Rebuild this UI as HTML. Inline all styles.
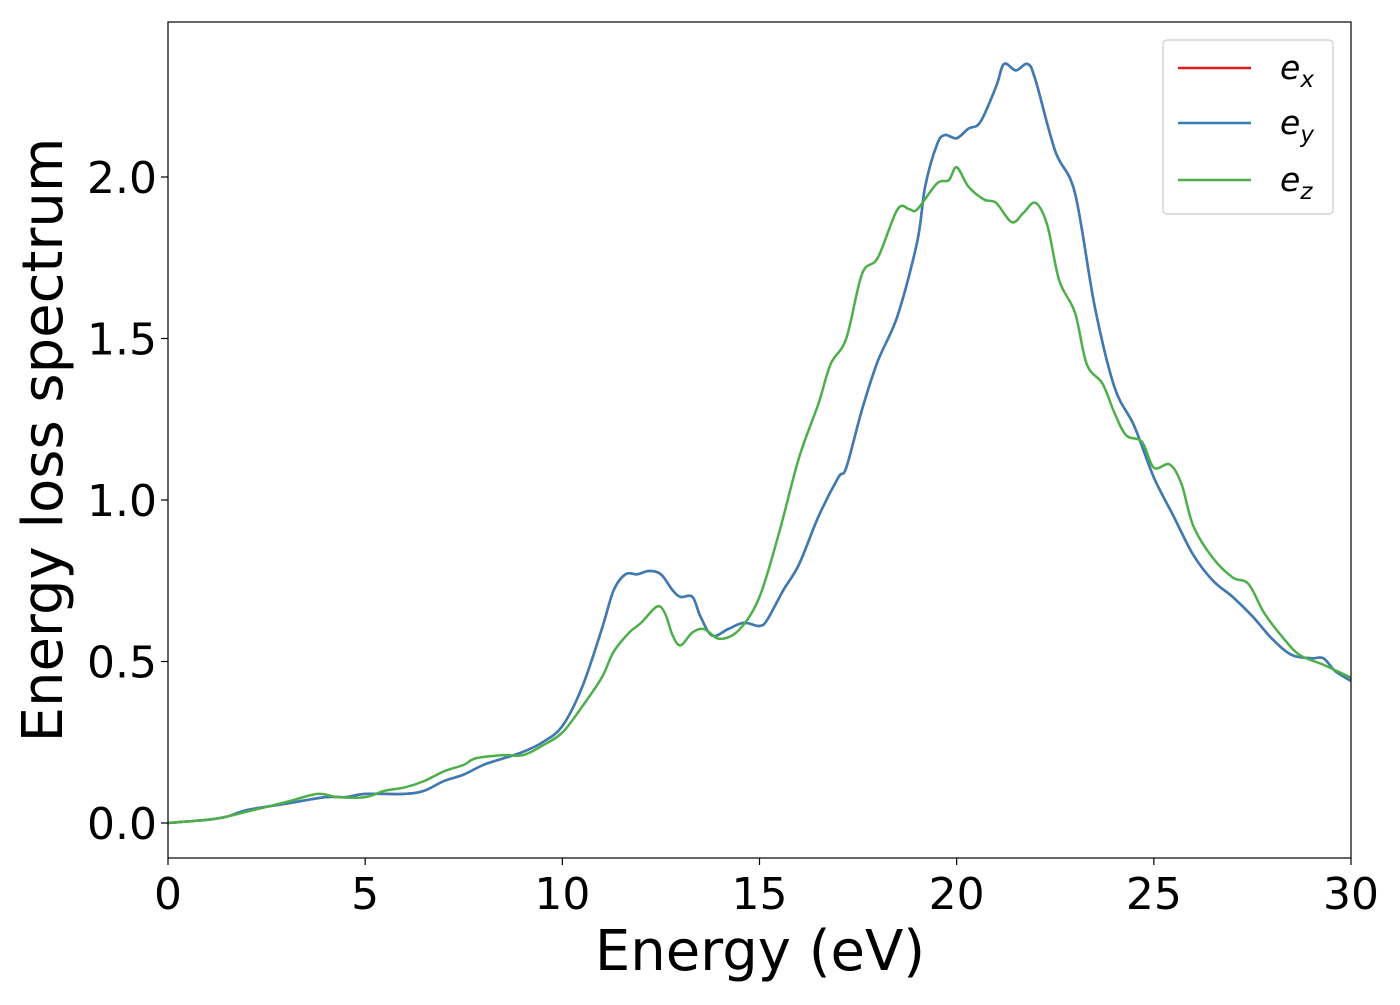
<!DOCTYPE html>
<html><head><meta charset="utf-8"><style>
body{margin:0;background:#fff;}
text{font-family:"DejaVu Sans","Liberation Sans",sans-serif;}
</style></head><body>
<svg id="chart" width="1400" height="1000" xmlns="http://www.w3.org/2000/svg">
<rect width="1400" height="1000" fill="#fff"/>
<g id="plot"></g>
</svg>
<script>
const xTicks=[0,5,10,15,20,25,30];
const yTicks=[0.0,0.5,1.0,1.5,2.0];
const xTickLabels=["0","5","10","15","20","25","30"];
const yTickLabels=["0.0","0.5","1.0","1.5","2.0"];
const energyXY=[0,1,1.5,2,3,4,4.5,5,6,6.5,7,7.5,8,8.5,9,9.5,10,10.5,11,11.3,11.6,11.9,12.2,12.5,12.8,13,13.3,13.5,13.8,14.2,14.6,15,15.2,15.6,16,16.5,17,17.2,17.6,18,18.5,19,19.2,19.5,19.7,20,20.3,20.6,21,21.2,21.5,21.8,22,22.5,23,23.5,24,24.5,25,25.5,26,26.5,27,27.5,28,28.5,29,29.3,29.6,30];
const lossXY=[0,0.01,0.02,0.04,0.06,0.08,0.08,0.09,0.09,0.10,0.13,0.15,0.18,0.2,0.22,0.25,0.3,0.42,0.6,0.72,0.77,0.77,0.78,0.77,0.72,0.7,0.7,0.64,0.58,0.6,0.62,0.61,0.63,0.72,0.8,0.95,1.07,1.1,1.28,1.43,1.57,1.8,1.97,2.1,2.13,2.12,2.15,2.17,2.28,2.35,2.33,2.35,2.30,2.08,1.95,1.6,1.35,1.23,1.07,0.95,0.83,0.75,0.7,0.64,0.57,0.52,0.51,0.51,0.47,0.44];
const energyZ=[0,1,1.5,2,3,3.8,4.3,5,5.5,6,6.5,7,7.5,7.8,8.5,9,9.5,10,10.5,11,11.3,11.7,12,12.4,12.6,12.8,13,13.3,13.6,14,14.5,15,15.5,16,16.5,16.8,17.2,17.6,18,18.5,18.8,19,19.5,19.8,20,20.3,20.7,21,21.4,21.7,22,22.3,22.6,23,23.3,23.7,24,24.3,24.7,25,25.4,25.7,26,26.5,27,27.4,27.8,28.3,28.7,29.3,30];
const lossZ=[0,0.01,0.02,0.035,0.065,0.09,0.08,0.08,0.1,0.11,0.13,0.16,0.18,0.2,0.21,0.21,0.24,0.28,0.36,0.45,0.53,0.59,0.62,0.67,0.65,0.58,0.55,0.59,0.6,0.57,0.6,0.7,0.9,1.13,1.3,1.42,1.5,1.7,1.75,1.9,1.9,1.9,1.98,1.99,2.03,1.97,1.93,1.92,1.86,1.89,1.92,1.85,1.68,1.58,1.42,1.36,1.27,1.2,1.18,1.1,1.11,1.05,0.92,0.82,0.76,0.74,0.65,0.57,0.52,0.49,0.45];
const L=168,R=1351,T=22,B=858;
const xs=v=>L+(v-0)/30*(R-L);
const ys=v=>823-v*323;
const ns="http://www.w3.org/2000/svg";
const g=document.getElementById('plot');
function mk(tag,attrs,parent){const e=document.createElementNS(ns,tag);for(const k in attrs)e.setAttribute(k,attrs[k]);(parent||g).appendChild(e);return e;}
function path(xa,ya){
  const p=xa.map((x,i)=>[xs(x),ys(ya[i])]);
  let d="M"+p[0][0]+","+p[0][1];
  for(let i=0;i<p.length-1;i++){
    const p0=p[Math.max(0,i-1)],p1=p[i],p2=p[i+1],p3=p[Math.min(p.length-1,i+2)];
    const c1x=p1[0]+(p2[0]-p0[0])/6,c1y=p1[1]+(p2[1]-p0[1])/6;
    const c2x=p2[0]-(p3[0]-p1[0])/6,c2y=p2[1]-(p3[1]-p1[1])/6;
    d+=` C${c1x},${c1y} ${c2x},${c2y} ${p2[0]},${p2[1]}`;
  }
  return d;
}
const defs=mk('defs',{});
const cp=mk('clipPath',{id:'clip'},defs);mk('rect',{x:L,y:T,width:R-L,height:B-T},cp);
const lg=mk('g',{'clip-path':'url(#clip)'});
let e;
e=mk('path',{d:path(energyXY,lossXY),fill:'none',stroke:'#e41a1c','stroke-width':2.5},lg);


e=mk('path',{d:path(energyXY,lossXY),fill:'none',stroke:'#377eb8','stroke-width':2.5},lg);


e=mk('path',{d:path(energyZ,lossZ),fill:'none',stroke:'#4daf4a','stroke-width':2.5},lg);


e=mk('rect',{x:L,y:T,width:R-L,height:B-T,fill:'none',stroke:'#000','stroke-width':1.2});


xTicks.forEach((v,i)=>{
  mk('line',{x1:xs(v),x2:xs(v),y1:B,y2:B+7,stroke:'#000','stroke-width':1.2});
  const t=mk('text',{x:xs(v),y:909,'font-size':44,'text-anchor':'middle'});t.textContent=xTickLabels[i];
  
  
});
yTicks.forEach((v,i)=>{
  mk('line',{x1:L-7,x2:L,y1:ys(v),y2:ys(v),stroke:'#000','stroke-width':1.2});
  const t=mk('text',{x:157,y:ys(v)+16,'font-size':44,'text-anchor':'end'});t.textContent=yTickLabels[i];
  
  
});
let t=mk('text',{x:760,y:970,'font-size':56,'text-anchor':'middle'});t.textContent='Energy (eV)';


t=mk('text',{x:0,y:0,'font-size':56,'text-anchor':'middle',transform:'translate(62,440) rotate(-90)'});t.textContent='Energy loss spectrum';


const leg=mk('g',{});


mk('rect',{x:1163,y:40,width:170,height:174,rx:4,fill:'#fff',stroke:'#ccc','stroke-width':1.2},leg);
const entries=[['x','#e41a1c',68],['y','#377eb8',123],['z','#4daf4a',180]];
entries.forEach(([s,c,y])=>{
  mk('line',{x1:1178,x2:1251,y1:y,y2:y,stroke:c,'stroke-width':2.5},leg);
  const tx=mk('text',{x:1280,y:y+11,'font-size':33,'font-style':'italic'},leg);
  tx.innerHTML=`e<tspan font-size="23" dy="8">${s}</tspan>`;
  
  
});
</script>
</body></html>
